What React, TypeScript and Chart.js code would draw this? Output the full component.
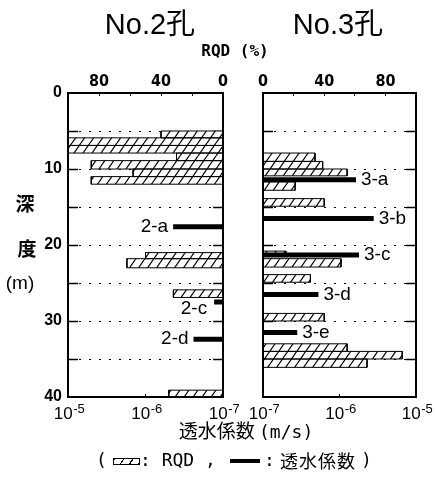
import React, { useEffect, useRef } from 'react';
import { Chart, registerables } from 'chart.js';

Chart.register(...registerables);

// ---------------- data ----------------
const DEPTH_MIN = 0;
const DEPTH_MAX = 40;
const DEPTH_TICK_LABELS = [0, 10, 20, 30, 40];
const RQD_TICK_LABELS = [0, 40, 80];
const K_TICKS = [1e-7, 1e-6, 1e-5];
const K_TICK_BASE = '10';
const K_TICK_EXPONENTS = ['-7', '-6', '-5'];

// No.2孔 : RQD intervals (depth top / bottom, m) and RQD (%)
const NO2_RQD_TOP = [5.0, 5.9, 6.9, 7.9, 8.9, 10.0, 11.0, 21.0, 21.8, 25.9, 39.1];
const NO2_RQD_BOTTOM = [5.9, 6.9, 7.9, 8.9, 10.0, 11.0, 12.0, 21.8, 23.0, 26.9, 40.0];
const NO2_RQD = [40, 100, 100, 30, 85, 58, 85, 50, 62, 32, 35];
// No.2孔 : permeability test sections
const NO2_K_NAMES = ['2-a', '2-c', '2-d'];
const NO2_K_DEPTH = [17.6, 27.5, 32.4];
const NO2_K = [4.4e-7, 1.3e-7, 2.4e-7];

// No.3孔
const NO3_RQD_TOP = [7.9, 9.0, 10.0, 11.7, 13.9, 20.8, 21.8, 23.9, 29.0, 33.0, 34.0, 35.0];
const NO3_RQD_BOTTOM = [9.0, 10.0, 10.9, 12.8, 14.9, 21.2, 22.9, 24.9, 30.0, 34.0, 35.0, 36.1];
const NO3_RQD = [34, 39, 55, 21, 40, 15, 51, 31, 40, 55, 91, 68];
const NO3_K_NAMES = ['3-a', '3-b', '3-c', '3-d', '3-e'];
const NO3_K_DEPTH = [11.4, 16.5, 21.3, 26.5, 31.5];
const NO3_K = [1.64e-6, 2.8e-6, 1.8e-6, 5.3e-7, 2.8e-7];

// ---------------- styles ----------------
const NUM_FONT = '"Liberation Sans Narrow", "DejaVu Sans Condensed", "Liberation Sans", sans-serif';
const SANS = '"Liberation Sans", "DejaVu Sans", sans-serif';
const MONO = '"DejaVu Sans Mono", "Liberation Mono", monospace';
const CJK = '"Noto Sans CJK JP", "Noto Sans CJK SC", sans-serif';
const LABEL_GAP = 5;
const LABEL_NUDGE: Record<string, [number, number]> = { '2-c': [-2, 7] };

function rectangles(tops: number[], bottoms: number[], values: number[]) {
  const pts: any[] = [];
  tops.forEach((top, i) => {
    const bottom = bottoms[i];
    const v = values[i];
    pts.push({ x: 0, y: top }, { x: v, y: top }, { x: v, y: bottom }, { x: 0, y: bottom }, { x: 0, y: top }, { x: null, y: null });
  });
  return pts;
}

function segments(depths: number[], values: number[]) {
  const pts: any[] = [];
  depths.forEach((d, i) => {
    pts.push({ x: K_TICKS[0], y: d }, { x: values[i], y: d }, { x: null, y: null });
  });
  return pts;
}

function makeHatch(target: CanvasRenderingContext2D) {
  const c = document.createElement('canvas');
  const w = 9;
  const h = 13;
  c.width = w;
  c.height = h;
  const g = c.getContext('2d')!;
  g.fillStyle = '#fff';
  g.fillRect(0, 0, w, h);
  g.strokeStyle = '#000';
  g.lineWidth = 1.2;
  for (const dx of [-w, 0, w]) {
    g.beginPath();
    g.moveTo(dx, h);
    g.lineTo(dx + w, 0);
    g.stroke();
  }
  return target.createPattern(c, 'repeat');
}

function barLabels(names: string[], depths: number[], values: number[], side: 'left' | 'right') {
  return {
    id: 'barLabels',
    afterDatasetsDraw(chart: any) {
      const { ctx } = chart;
      const xs = chart.scales.xk;
      const ys = chart.scales.y;
      ctx.save();
      ctx.font = `19px ${SANS}`;
      ctx.fillStyle = '#000';
      ctx.textBaseline = 'middle';
      ctx.textAlign = side === 'left' ? 'right' : 'left';
      names.forEach((name, i) => {
        const x = xs.getPixelForValue(values[i]);
        const y = ys.getPixelForValue(depths[i]);
        const [dx, dy] = LABEL_NUDGE[name] || [0, 0];
        ctx.fillText(name, (side === 'left' ? x - LABEL_GAP : x + LABEL_GAP) + dx, y + dy);
      });
      ctx.restore();
    },
  };
}

// power-of-ten tick labels with a raised exponent under the permeability axis
const powerLabels = {
  id: 'powerLabels',
  afterDraw(chart: any) {
    const { ctx } = chart;
    const xs = chart.scales.xk;
    ctx.save();
    ctx.fillStyle = '#000';
    ctx.textBaseline = 'alphabetic';
    ctx.textAlign = 'left';
    K_TICKS.forEach((v, i) => {
      const x = xs.getPixelForValue(v);
      ctx.font = `17px ${SANS}`;
      const wBase = ctx.measureText(K_TICK_BASE).width;
      ctx.font = `13px ${SANS}`;
      const wExp = ctx.measureText(K_TICK_EXPONENTS[i]).width;
      const x0 = x - (wBase + wExp) / 2 + 1;
      ctx.font = `17px ${SANS}`;
      ctx.fillText(K_TICK_BASE, x0, xs.top + 22);
      ctx.font = `13px ${SANS}`;
      ctx.fillText(K_TICK_EXPONENTS[i], x0 + wBase + 0.5, xs.top + 16);
    });
    ctx.restore();
  },
};

type PanelProps = {
  side: 'left' | 'right';
  left: number;
  width: number;
  rqdTop: number[];
  rqdBottom: number[];
  rqd: number[];
  kNames: string[];
  kDepth: number[];
  k: number[];
};

function Panel({ side, left, width, rqdTop, rqdBottom, rqd, kNames, kDepth, k }: PanelProps) {
  const ref = useRef<HTMLCanvasElement>(null);
  useEffect(() => {
    const canvas = ref.current!;
    const ctx = canvas.getContext('2d')!;
    const hatch = makeHatch(ctx);
    const isLeft = side === 'left';
    const edgeHidden = (c: any) =>
      c.tick && (c.tick.value === DEPTH_MIN || c.tick.value === DEPTH_MAX) ? 'rgba(0,0,0,0)' : '#000';
    const chart = new Chart(ctx, {
      type: 'scatter',
      data: {
        datasets: [
          {
            label: '透水係数',
            data: segments(kDepth, k),
            xAxisID: 'xk',
            yAxisID: 'y',
            showLine: true,
            borderColor: '#000',
            borderWidth: 5,
            borderCapStyle: 'butt',
            pointRadius: 0,
            pointHoverRadius: 0,
            fill: false,
            spanGaps: false,
            order: 1,
          } as any,
          {
            label: 'RQD',
            data: rectangles(rqdTop, rqdBottom, rqd),
            xAxisID: 'xr',
            yAxisID: 'y',
            showLine: true,
            fill: 'shape',
            backgroundColor: hatch,
            borderColor: '#000',
            borderWidth: 1,
            pointRadius: 0,
            pointHoverRadius: 0,
            spanGaps: false,
            order: 2,
          } as any,
        ],
      },
      options: {
        animation: false,
        responsive: false,
        maintainAspectRatio: false,
        events: [],
        layout: { padding: isLeft ? { left: 0, right: 20, top: 0, bottom: 0 } : { left: 20, right: 19, top: 0, bottom: 0 } },
        plugins: { legend: { display: false }, tooltip: { enabled: false }, title: { display: false } },
        scales: {
          xr: {
            type: 'linear',
            position: 'top',
            min: 0,
            max: 100,
            reverse: isLeft,
            ticks: {
              stepSize: 20,
              autoSkip: false,
              maxRotation: 0,
              padding: 5,
              color: '#000',
              font: { family: NUM_FONT, size: 16, weight: 'bold' },
              callback: (v: any) => (RQD_TICK_LABELS.includes(Number(v)) ? String(v) : ''),
            },
            grid: { drawOnChartArea: false, drawTicks: true, tickLength: -3, tickColor: '#000', tickWidth: 1 },
            border: { display: true, color: '#000', width: 2, z: 1 },
            afterFit: (s: any) => {
              s.height = 93;
              s.paddingLeft = 0;
              s.paddingRight = 0;
            },
          },
          xk: {
            type: 'logarithmic',
            position: 'bottom',
            min: K_TICKS[0],
            max: K_TICKS[K_TICKS.length - 1],
            reverse: isLeft,
            afterBuildTicks: (s: any) => {
              s.ticks = K_TICKS.map((value) => ({ value }));
            },
            ticks: { display: false, autoSkip: false, maxRotation: 0 },
            grid: { drawOnChartArea: false, tickLength: -3, tickColor: '#000', tickWidth: 1 },
            border: { display: true, color: '#000', width: 2, z: 1 },
            afterFit: (s: any) => {
              s.height = 81;
              s.paddingLeft = 0;
              s.paddingRight = 0;
            },
          },
          y: {
            type: 'linear',
            position: 'left',
            min: DEPTH_MIN,
            max: DEPTH_MAX,
            reverse: true,
            ticks: {
              display: isLeft,
              stepSize: 5,
              autoSkip: false,
              padding: 16,
              color: '#000',
              font: { family: SANS, size: 16, weight: 'bold' },
              callback: (v: any) => (DEPTH_TICK_LABELS.includes(Number(v)) ? String(v) : ''),
            },
            grid: { color: edgeHidden, lineWidth: 1, tickLength: -10, tickColor: edgeHidden, tickWidth: 1.5 },
            border: { display: true, color: '#000', width: 2, dash: [2, 8], z: 1 },
            afterFit: (s: any) => {
              s.width = isLeft ? 68 : 0;
            },
          },
          y2: {
            type: 'linear',
            position: 'right',
            min: DEPTH_MIN,
            max: DEPTH_MAX,
            reverse: true,
            ticks: { display: false, stepSize: 5, autoSkip: false },
            grid: { drawOnChartArea: false, tickLength: -10, tickColor: edgeHidden, tickWidth: 1.5 },
            border: { display: true, color: '#000', width: 2, z: 1 },
            afterFit: (s: any) => {
              s.width = 0;
            },
          },
        },
      } as any,
      plugins: [barLabels(kNames, kDepth, k, side), powerLabels],
    });
    return () => chart.destroy();
  }, []);
  return (
    <canvas
      ref={ref}
      width={width}
      height={478}
      style={{ position: 'absolute', left, top: 0, width, height: 478 }}
    />
  );
}

const txt = (style: React.CSSProperties): React.CSSProperties => ({
  position: 'absolute',
  whiteSpace: 'nowrap',
  color: '#000',
  margin: 0,
  ...style,
});

export default function App() {
  return (
    <div style={{ position: 'absolute', left: 0, top: 0, width: 435, height: 478, background: '#fff', overflow: 'hidden' }}>
      <Panel side="left" left={0} width={243} rqdTop={NO2_RQD_TOP} rqdBottom={NO2_RQD_BOTTOM} rqd={NO2_RQD} kNames={NO2_K_NAMES} kDepth={NO2_K_DEPTH} k={NO2_K} />
      <Panel side="right" left={243} width={192} rqdTop={NO3_RQD_TOP} rqdBottom={NO3_RQD_BOTTOM} rqd={NO3_RQD} kNames={NO3_K_NAMES} kDepth={NO3_K_DEPTH} k={NO3_K} />

      <div style={txt({ left: 80, width: 140, top: 8, textAlign: 'center', fontFamily: `"Liberation Sans", ${CJK}`, fontSize: 29, lineHeight: '32px' })}>No.2孔</div>
      <div style={txt({ left: 268, width: 140, top: 8, textAlign: 'center', fontFamily: `"Liberation Sans", ${CJK}`, fontSize: 29, lineHeight: '32px' })}>No.3孔</div>
      <div style={txt({ left: 180, width: 110, top: 41, textAlign: 'center', fontFamily: MONO, fontSize: 16, fontWeight: 700, lineHeight: '19px' })}>RQD (%)</div>

      <div style={txt({ left: 8, width: 34, top: 191, textAlign: 'center', fontFamily: CJK, fontSize: 19, fontWeight: 700, lineHeight: '24px' })}>深</div>
      <div style={txt({ left: 10, width: 34, top: 236, textAlign: 'center', fontFamily: CJK, fontSize: 19, fontWeight: 700, lineHeight: '24px' })}>度</div>
      <div style={txt({ left: 0, width: 40, top: 271, textAlign: 'center', fontFamily: SANS, fontSize: 19, lineHeight: '24px' })}>(m)</div>

      <div style={txt({ left: 146, width: 200, top: 418, textAlign: 'center', fontFamily: CJK, fontSize: 19, lineHeight: '24px' })}>
        透水係数 <span style={{ fontFamily: MONO, fontSize: 18 }}>(m/s)</span>
      </div>

      <div style={txt({ left: 96, top: 450, fontFamily: MONO, fontSize: 18, lineHeight: '20px' })}>(</div>
      <div
        style={{
          position: 'absolute',
          left: 113,
          top: 458,
          width: 27,
          height: 7,
          boxSizing: 'border-box',
          border: '1px solid #000',
          backgroundImage: 'repeating-linear-gradient(124deg, #000 0 1.2px, transparent 1.2px 7.5px)',
        }}
      />
      <div style={txt({ left: 140, top: 450, fontFamily: MONO, fontSize: 18, lineHeight: '20px' })}>: RQD ,</div>
      <div style={{ position: 'absolute', left: 230, top: 459, width: 30, height: 4, background: '#000' }} />
      <div style={txt({ left: 264, top: 450, fontFamily: MONO, fontSize: 18, lineHeight: '20px' })}>:</div>
      <div style={txt({ left: 280, top: 448, fontFamily: CJK, fontSize: 18, letterSpacing: 1, lineHeight: '24px' })}>透水係数</div>
      <div style={txt({ left: 361, top: 450, fontFamily: MONO, fontSize: 18, lineHeight: '20px' })}>)</div>
    </div>
  );
}
